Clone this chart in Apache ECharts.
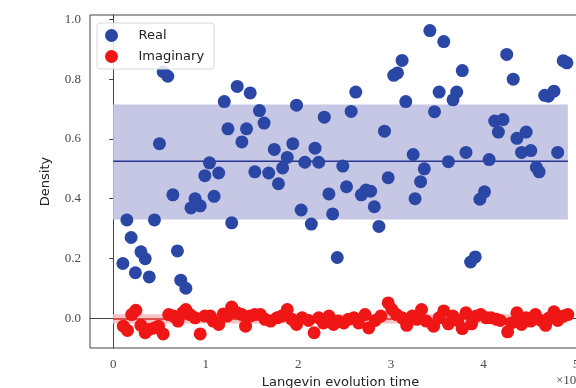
<!DOCTYPE html>
<html>
<head>
<meta charset="UTF-8">
<title>Density vs Langevin evolution time</title>
<script src="https://cdn.jsdelivr.net/npm/echarts@6/dist/echarts.min.js"></script>
<style>
  html, body { margin: 0; padding: 0; background: #fff; }
  #main { width: 576px; height: 388px; }
</style>
</head>
<body>
<div id="main"></div>
<script>
// Real part samples
var realX = [0.105, 0.148, 0.194, 0.24, 0.30, 0.346, 0.39, 0.446, 0.50, 0.54, 0.59, 0.645, 0.694, 0.73, 0.785,
  0.84, 0.885, 0.94, 0.99, 1.04, 1.09, 1.14, 1.20, 1.24, 1.28, 1.34, 1.39, 1.44, 1.48, 1.53, 1.58, 1.63, 1.68,
  1.74, 1.785, 1.83, 1.88, 1.94, 1.98, 2.03, 2.07, 2.14, 2.18, 2.22, 2.28, 2.33, 2.37, 2.42, 2.48, 2.52, 2.57,
  2.62, 2.68, 2.73, 2.78, 2.82, 2.87, 2.93, 2.97, 3.03, 3.07, 3.12, 3.16, 3.24, 3.26, 3.32, 3.36, 3.42, 3.47,
  3.52, 3.57, 3.62, 3.67, 3.71, 3.77, 3.81, 3.86, 3.91, 3.96, 4.01, 4.06, 4.12, 4.16, 4.21, 4.25, 4.32, 4.36,
  4.41, 4.46, 4.51, 4.57, 4.60, 4.66, 4.70, 4.76, 4.80, 4.86, 4.90];
var realY = [0.183, 0.329, 0.27, 0.152, 0.222, 0.199, 0.138, 0.329, 0.584, 0.825, 0.81, 0.413, 0.225, 0.127, 0.10,
  0.369, 0.40, 0.376, 0.477, 0.52, 0.408, 0.486, 0.725, 0.634, 0.319, 0.776, 0.59, 0.634, 0.754, 0.49, 0.695, 0.653, 0.486,
  0.565, 0.45, 0.503, 0.538, 0.584, 0.713, 0.362, 0.522, 0.315, 0.569, 0.522, 0.673, 0.416, 0.349, 0.203, 0.509, 0.44, 0.692,
  0.757, 0.413, 0.429, 0.425, 0.373, 0.307, 0.626, 0.47, 0.813, 0.821, 0.863, 0.725, 0.548, 0.40, 0.457, 0.50, 0.963, 0.691,
  0.757, 0.926, 0.524, 0.731, 0.757, 0.829, 0.555, 0.188, 0.205, 0.398, 0.423, 0.531, 0.66, 0.623, 0.665, 0.883, 0.80, 0.602,
  0.555, 0.623, 0.561, 0.505, 0.49, 0.746, 0.743, 0.76, 0.555, 0.862, 0.855];

// Imaginary part samples
var imagX = [0.11, 0.155, 0.20, 0.245, 0.30, 0.346, 0.39, 0.446, 0.49, 0.54, 0.60, 0.65, 0.70, 0.75, 0.785, 0.83,
  0.885, 0.94, 0.99, 1.05, 1.08, 1.14, 1.19, 1.23, 1.28, 1.34, 1.39, 1.43, 1.48, 1.53, 1.59, 1.64, 1.70, 1.77,
  1.82, 1.88, 1.93, 1.98, 2.04, 2.11, 2.17, 2.22, 2.27, 2.33, 2.38, 2.43, 2.49, 2.54, 2.60, 2.65, 2.72, 2.76,
  2.83, 2.89, 2.97, 3.01, 3.06, 3.12, 3.17, 3.23, 3.28, 3.33, 3.38, 3.46, 3.52, 3.57, 3.62, 3.67, 3.72, 3.77,
  3.81, 3.87, 3.92, 3.97, 4.03, 4.08, 4.14, 4.18, 4.26, 4.30, 4.36, 4.41, 4.46, 4.51, 4.56, 4.62, 4.67, 4.71,
  4.76, 4.80, 4.86, 4.91];
var imagY = [-0.027, -0.041, 0.012, 0.026, -0.024, -0.049, -0.038, -0.033, -0.027, -0.053, 0.012, 0.007, -0.01, 0.018, 0.029, 0.012,
  0.001, -0.053, 0.007, 0.007, -0.01, -0.021, 0.014, 0.007, 0.037, 0.018, 0.012, -0.027, 0.007, 0.012, 0.012, -0.004, -0.01, 0.001,
  0.007, 0.029, -0.004, -0.021, 0.001, -0.008, -0.049, 0.001, -0.016, 0.007, -0.021, -0.01, -0.016, -0.004, 0.001, -0.016, 0.012, -0.033,
  -0.008, 0.007, 0.051, 0.029, 0.012, 0.001, -0.024, 0.007, -0.004, 0.029, -0.01, -0.027, 0.001, 0.024, -0.019, 0.007, -0.008, -0.035,
  0.018, -0.019, 0.007, 0.012, 0.001, 0.001, -0.004, -0.008, -0.046, -0.016, 0.018, -0.021, 0.001, -0.01, 0.012, -0.008, -0.024, 0.001,
  0.021, -0.008, 0.007, 0.012];

// mean lines and +/- std bands
var bandX = [0, 4.91];
var realMean = 0.525;
var realBand = [0.33, 0.715];
var imagMean = -0.003;
var imagBand = [-0.018, 0.013];

var xTicks = [0, 1, 2, 3, 4, 5];
var yTicks = [0, 0.2, 0.4, 0.6, 0.8, 1.0];

function zip(xs, ys) {
  var out = [];
  for (var i = 0; i < xs.length; i++) out.push([xs[i], ys[i]]);
  return out;
}

var chart = echarts.init(document.getElementById('main'), null, { renderer: 'canvas' });

var tickFont = { fontFamily: 'Liberation Serif', fontSize: 13, color: '#4a4a4a' };

var option = {
  backgroundColor: '#fff',
  animation: false,
  grid: {
    left: 90, top: 15, bottom: 40, right: -15,
    outerBoundsMode: 'none',
    containLabel: false,
    show: true, borderColor: '#444', borderWidth: 1, backgroundColor: 'transparent'
  },
  legend: {
    left: 97, top: 23,
    orient: 'vertical',
    data: ['Real', 'Imaginary'],
    icon: 'circle',
    itemWidth: 26, itemHeight: 13, itemGap: 8,
    padding: [6, 10, 6, 8],
    backgroundColor: 'rgba(255,255,255,0.85)',
    borderColor: '#d8d8d8', borderWidth: 1, borderRadius: 3,
    textStyle: { fontFamily: 'DejaVu Sans', fontSize: 13, color: '#222', padding: [0, 0, 0, 9] }
  },
  xAxis: {
    type: 'value',
    min: -0.25, max: 5.16,
    name: 'Langevin evolution time',
    nameLocation: 'middle', nameGap: 27,
    nameTextStyle: { fontFamily: 'DejaVu Sans', fontSize: 13, color: '#222' },
    axisLine: { show: true, lineStyle: { color: '#444' } },
    axisTick: { show: true, customValues: xTicks, length: 4, lineStyle: { color: '#444' } },
    axisLabel: Object.assign({ customValues: xTicks, margin: 10 }, tickFont),
    splitLine: { show: false }
  },
  yAxis: {
    type: 'value',
    min: -0.1, max: 1.015,
    name: 'Density',
    nameLocation: 'middle', nameGap: 38,
    nameTextStyle: { fontFamily: 'DejaVu Sans', fontSize: 13, color: '#222' },
    axisLine: { show: true, lineStyle: { color: '#444' } },
    axisTick: { show: true, customValues: yTicks, length: 4, lineStyle: { color: '#444' } },
    axisLabel: Object.assign({
      customValues: yTicks, margin: 9,
      formatter: function (v) { return v.toFixed(1); }
    }, tickFont),
    splitLine: { show: false }
  },
  series: [
    {
      name: 'realMean',
      type: 'line',
      silent: true,
      symbol: 'none',
      z: 1,
      lineStyle: { color: '#26358f', width: 1.5 },
      data: [[bandX[0], realMean], [bandX[1], realMean]],
      markArea: {
        silent: true,
        itemStyle: { color: '#c6c6e5' },
        data: [[{ coord: [bandX[0], realBand[0]] }, { coord: [bandX[1], realBand[1]] }]]
      }
    },
    {
      name: 'imagMean',
      type: 'line',
      silent: true,
      symbol: 'none',
      z: 1,
      lineStyle: { color: '#d42a2a', width: 1.5 },
      data: [[bandX[0], imagMean], [bandX[1], imagMean]],
      markArea: {
        silent: true,
        itemStyle: { color: '#f6c4c4' },
        data: [[{ coord: [bandX[0], imagBand[0]] }, { coord: [bandX[1], imagBand[1]] }]]
      }
    },
    {
      name: 'Real',
      type: 'scatter',
      z: 3,
      symbolSize: 13,
      itemStyle: { color: '#2a47a6', opacity: 1 },
      data: zip(realX, realY)
    },
    {
      name: 'Imaginary',
      type: 'scatter',
      z: 3,
      symbolSize: 13,
      itemStyle: { color: '#f01616', opacity: 1 },
      data: zip(imagX, imagY)
    }
  ],
  graphic: [
    {
      type: 'text', left: 556, top: 374,
      style: { text: '×10', fontFamily: 'Liberation Serif', fontSize: 13, fill: '#4a4a4a' }
    }
  ]
};

chart.setOption(option);
</script>
</body>
</html>
